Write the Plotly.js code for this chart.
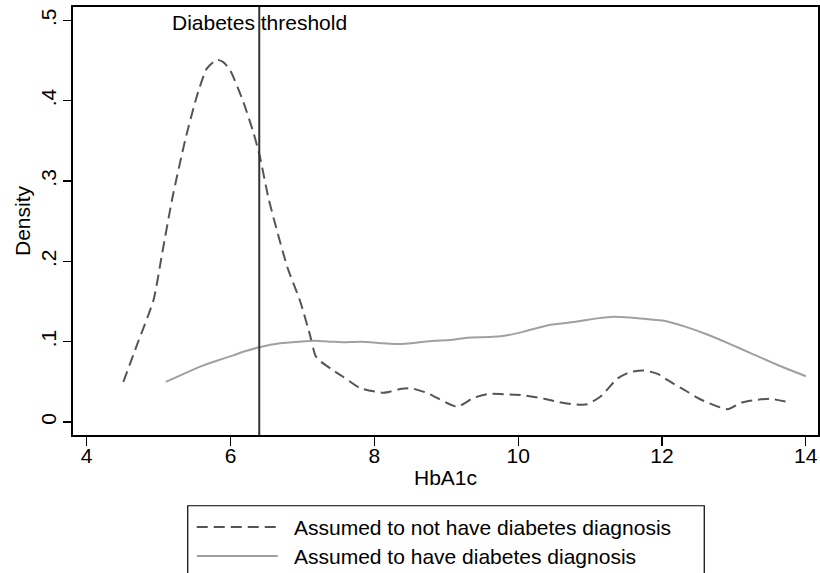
<!DOCTYPE html>
<html>
<head>
<meta charset="utf-8">
<script src="https://cdn.plot.ly/plotly-3.0.1.min.js"></script>
<style>html,body{margin:0;padding:0;background:#fff;}#chart{width:820px;height:573px;}</style>
</head>
<body>
<div id="chart"></div>
<script>
// Kernel density: assumed NOT to have diabetes diagnosis (dashed)
const noDiagX = [4.51, 4.7, 4.93, 5.05, 5.19, 5.37, 5.53, 5.67, 5.81, 5.9, 6.0, 6.18, 6.32, 6.41, 6.53, 6.79, 6.97, 7.1, 7.18, 7.23, 7.4, 7.57, 7.81, 8.13, 8.36, 8.51, 8.74, 8.83, 9.15, 9.38, 9.6, 9.94, 10.04, 10.36, 10.55, 10.78, 10.96, 11.15, 11.38, 11.55, 11.75, 11.94, 12.08, 12.31, 12.54, 12.91, 13.1, 13.28, 13.5, 13.79];
const noDiagY = [0.050, 0.096, 0.152, 0.210, 0.278, 0.351, 0.405, 0.440, 0.451, 0.448, 0.437, 0.398, 0.360, 0.330, 0.278, 0.193, 0.150, 0.110, 0.083, 0.077, 0.066, 0.056, 0.042, 0.0365, 0.041, 0.042, 0.036, 0.032, 0.019, 0.030, 0.035, 0.034, 0.0336, 0.029, 0.025, 0.022, 0.022, 0.032, 0.054, 0.062, 0.064, 0.060, 0.052, 0.040, 0.028, 0.016, 0.024, 0.027, 0.029, 0.024];
// Kernel density: assumed to HAVE diabetes diagnosis (solid)
const diagX = [5.10, 5.35, 5.58, 5.8, 6.04, 6.2, 6.40, 6.69, 6.97, 7.16, 7.4, 7.57, 7.81, 8.13, 8.36, 8.6, 8.83, 9.05, 9.29, 9.66, 9.85, 10.08, 10.45, 10.82, 11.1, 11.33, 11.55, 11.80, 12.03, 12.31, 12.63, 12.95, 13.24, 13.61, 14.0];
const diagY = [0.050, 0.060, 0.069, 0.076, 0.083, 0.088, 0.093, 0.098, 0.100, 0.101, 0.100, 0.0993, 0.100, 0.098, 0.097, 0.099, 0.101, 0.102, 0.105, 0.106, 0.108, 0.1125, 0.121, 0.125, 0.129, 0.131, 0.130, 0.128, 0.126, 0.119, 0.109, 0.097, 0.0855, 0.071, 0.057];

const thresholdX = 6.4;
const thresholdLabel = "Diabetes threshold";
const seriesNames = ["Assumed to not have diabetes diagnosis", "Assumed to have diabetes diagnosis"];
const xTicks = [4, 6, 8, 10, 12, 14];
const yTicks = [0, 0.1, 0.2, 0.3, 0.4, 0.5];
const yTickText = ["0", ".1", ".2", ".3", ".4", ".5"];

const FONT = "Liberation Sans, Arial, Helvetica, sans-serif";
const dashColor = "#555555";
const solidColor = "#a0a0a0";
const DASH = "11px,6px";

const traces = [
  {x: noDiagX, y: noDiagY, type: "scatter", mode: "lines", name: seriesNames[0],
   line: {color: dashColor, width: 2, dash: DASH, shape: "spline", smoothing: 0.6}, showlegend: false},
  {x: diagX, y: diagY, type: "scatter", mode: "lines", name: seriesNames[1],
   line: {color: solidColor, width: 2, shape: "spline", smoothing: 0.6}, showlegend: false}
];

// plot area in pixels: left 73, right 817.7, top 7.3, bottom 435
const L = 73, R = 2.3, T = 7.3, B = 138;
const W = 820, H = 573;
const pw = W - L - R, ph = H - T - B;
const px = v => (v - L) / pw;
const py = v => (H - B - v) / ph;

const shapes = [
  {type: "line", xref: "x", yref: "paper", x0: thresholdX, x1: thresholdX, y0: 0, y1: 1,
   line: {color: "#333333", width: 2}},
  // legend box
  {type: "rect", xref: "paper", yref: "paper", x0: px(187.7), x1: px(704), y0: py(505.7), y1: py(600),
   line: {color: "#000", width: 1.2}, fillcolor: "rgba(0,0,0,0)"},
  {type: "line", xref: "paper", yref: "paper", x0: px(196.7), x1: px(277.7), y0: py(527), y1: py(527),
   line: {color: dashColor, width: 2, dash: DASH}},
  {type: "line", xref: "paper", yref: "paper", x0: px(196.7), x1: px(277.7), y0: py(556), y1: py(556),
   line: {color: solidColor, width: 2}}
];

const annotations = [
  {x: thresholdX, y: 0.498, xref: "x", yref: "y", text: thresholdLabel, showarrow: false,
   xanchor: "center", yanchor: "middle", font: {family: FONT, size: 21, color: "#000"}},
  {x: px(291.7), y: py(527), xref: "paper", yref: "paper", text: seriesNames[0], showarrow: false,
   xanchor: "left", yanchor: "middle", font: {family: FONT, size: 21, color: "#000"}},
  {x: px(291.7), y: py(556), xref: "paper", yref: "paper", text: seriesNames[1], showarrow: false,
   xanchor: "left", yanchor: "middle", font: {family: FONT, size: 21, color: "#000"}}
];

const layout = {
  width: W, height: H,
  margin: {l: L, r: R, t: T, b: B, pad: 0},
  paper_bgcolor: "#fff", plot_bgcolor: "#fff",
  font: {family: FONT, size: 21, color: "#000"},
  showlegend: false,
  xaxis: {
    range: [3.81, 14.17], tickvals: xTicks, ticktext: xTicks.map(String),
    ticks: "outside", ticklen: 9, tickwidth: 1.2, tickcolor: "#000",
    ticklabelstandoff: -8,
    showline: true, linecolor: "#000", linewidth: 2, mirror: true,
    showgrid: false, zeroline: false,
    tickfont: {family: FONT, size: 21, color: "#000"},
    title: {text: "HbA1c", font: {family: FONT, size: 21, color: "#000"}, standoff: 4}
  },
  yaxis: {
    range: [-0.0162, 0.5167], tickvals: yTicks, ticktext: yTickText,
    ticks: "outside", ticklen: 8, tickwidth: 1.2, tickcolor: "#000",
    tickangle: -90, ticklabelstandoff: -1,
    showline: true, linecolor: "#000", linewidth: 2, mirror: true,
    showgrid: false, zeroline: false,
    tickfont: {family: FONT, size: 21, color: "#000"},
    title: {text: "Density", font: {family: FONT, size: 21, color: "#000"}, standoff: 0}
  },
  shapes: shapes,
  annotations: annotations
};

Plotly.newPlot("chart", traces, layout, {displayModeBar: false, staticPlot: true});
</script>
</body>
</html>
